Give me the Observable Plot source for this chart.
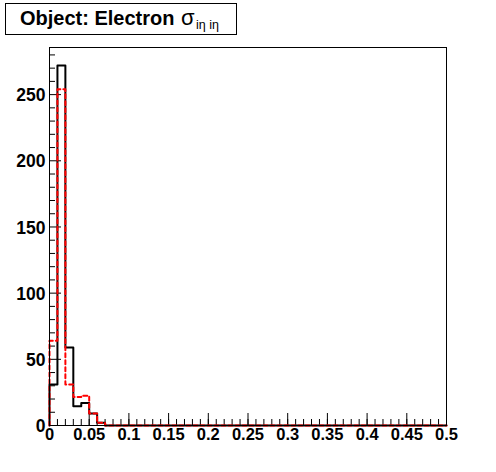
<!DOCTYPE html>
<html>
<head>
<meta charset="utf-8">
<script src="https://cdn.jsdelivr.net/npm/d3@7"></script>
<script src="https://cdn.jsdelivr.net/npm/@observablehq/plot@0.6"></script>
<style>
  html, body { margin: 0; padding: 0; background: #fff; }
  #wrap { position: relative; width: 496px; height: 472px; font-family: "Liberation Sans", Arial, sans-serif; }
  #title { position: absolute; left: 5px; top: 3px; width: 232px; height: 32px; border: 1px solid #000; background: #fff; box-sizing: border-box; }
  #title .main { position: absolute; left: 14px; top: 3px; font-weight: bold; font-size: 20px; white-space: nowrap; }
  #title .sig { position: absolute; left: 175px; top: 1px; font-size: 22px; white-space: nowrap; }
  #title .sub { position: absolute; left: 190px; top: 14px; font-size: 12.5px; white-space: nowrap; }
</style>
</head>
<body>
<div id="wrap">
  <div id="chart"></div>
  <div id="title"><span class="main">Object: Electron</span><span class="sig">σ</span><span class="sub">iη iη</span></div>
</div>
<script>
// Bin edges (0 to 0.5, width 0.01)
const binEdges = [0,0.01,0.02,0.03,0.04,0.05,0.06,0.07,0.08,0.09,0.10,0.11,0.12,0.13,0.14,0.15,0.16,0.17,0.18,0.19,0.20,0.21,0.22,0.23,0.24,0.25,0.26,0.27,0.28,0.29,0.30,0.31,0.32,0.33,0.34,0.35,0.36,0.37,0.38,0.39,0.40,0.41,0.42,0.43,0.44,0.45,0.46,0.47,0.48,0.49,0.50];
// Black (solid) histogram counts per bin
const blackCounts = [31,272,59,14.5,17,9,2,0,0,0,0,0,0,0,0,0,0,0,0,0,0,0,0,0,0,0,0,0,0,0,0,0,0,0,0,0,0,0,0,0,0,0,0,0,0,0,0,0,0,0];
// Red (dashed) histogram counts per bin
const redCounts = [64,254,31,21.5,22.5,9,2,0,0,0,0,0,0,0,0,0,0,0,0,0,0,0,0,0,0,0,0,0,0,0,0,0,0,0,0,0,0,0,0,0,0,0,0,0,0,0,0,0,0,0];
// Tick values
const xMajorTicks = [0,0.05,0.1,0.15,0.2,0.25,0.3,0.35,0.4,0.45,0.5];
const xTickLabels = ["0","0.05","0.1","0.15","0.2","0.25","0.3","0.35","0.4","0.45","0.5"];
const yMajorTicks = [0,50,100,150,200,250];
const yMinorTicks = [10,20,30,40,60,70,80,90,110,120,130,140,160,170,180,190,210,220,230,240,260,270,280];
const yMax = 285.6;

function stepPoints(counts) {
  const pts = [{x: binEdges[0], y: 0}];
  counts.forEach((v, i) => pts.push({x: binEdges[i], y: v}));
  pts.push({x: binEdges[binEdges.length - 1], y: counts[counts.length - 1]});
  pts.push({x: binEdges[binEdges.length - 1], y: 0});
  return pts;
}

const W = 496, H = 472, mL = 49, mR = 50, mT = 47, mB = 47;
const innerW = W - mL - mR, innerH = H - mT - mB;

const chart = Plot.plot({
  width: W, height: H,
  marginLeft: mL, marginRight: mR, marginTop: mT, marginBottom: mB,
  style: {fontFamily: "'Liberation Sans', Arial, sans-serif", background: "#fff"},
  x: {domain: [0, 0.5]},
  y: {domain: [0, yMax]},
  marks: [
    Plot.ruleX(binEdges, {x: d => d, stroke: "black", strokeWidth: 1, insetTop: innerH - 6}),
    Plot.ruleX(xMajorTicks, {x: d => d, stroke: "black", strokeWidth: 1, insetTop: innerH - 12}),
    Plot.ruleY(yMinorTicks, {y: d => d, stroke: "black", strokeWidth: 1, insetRight: innerW - 6}),
    Plot.ruleY(yMajorTicks, {y: d => d, stroke: "black", strokeWidth: 1, insetRight: innerW - 12}),
    Plot.line(stepPoints(blackCounts), {x: "x", y: "y", curve: "step-after", stroke: "black", strokeWidth: 2}),
    Plot.line(stepPoints(redCounts), {x: "x", y: "y", curve: "step-after", stroke: "#ff0000", strokeWidth: 2, strokeDasharray: "4,3"}),
    Plot.frame({stroke: "black", strokeWidth: 1}),
    Plot.axisX(xMajorTicks, {tickSize: 0, tickPadding: 3, tickFormat: (d, i) => xTickLabels[i], fontSize: 16.5, fontWeight: "bold", fill: "black", label: null}),
    Plot.axisY(yMajorTicks, {tickSize: 0, tickPadding: 4, fontSize: 17.5, fontWeight: "bold", fill: "black", label: null, dy: 1})
  ]
});
document.getElementById("chart").appendChild(chart);
</script>
</body>
</html>
